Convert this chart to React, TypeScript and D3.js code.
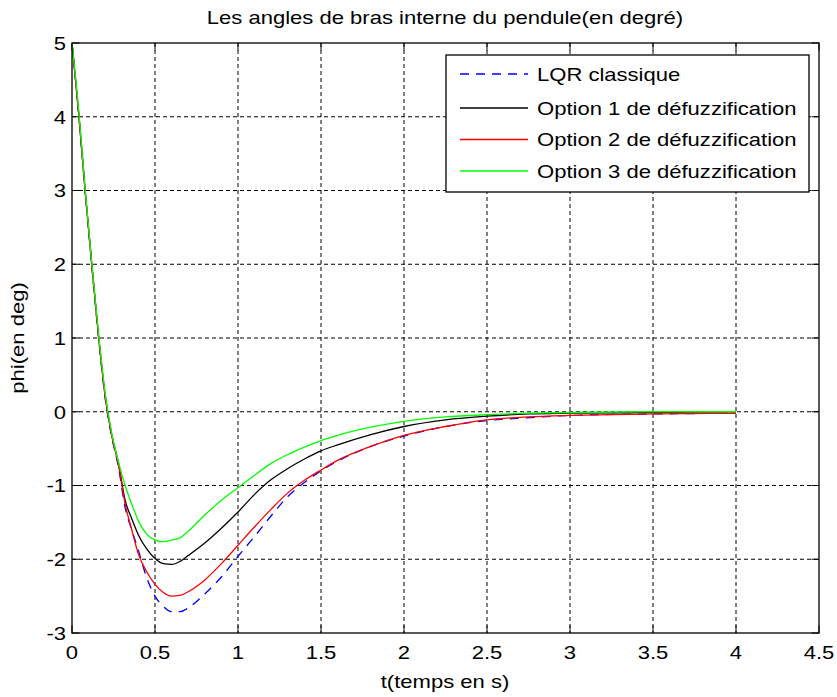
import React from "react";
import * as d3 from "d3";

const T = [0, 0.04, 0.08, 0.12, 0.16, 0.2, 0.24, 0.28, 0.32, 0.36, 0.4, 0.45, 0.5, 0.55, 0.6, 0.65, 0.7, 0.8, 0.9, 1.0, 1.1, 1.2, 1.3, 1.4, 1.5, 1.6, 1.8, 2.0, 2.25, 2.5, 2.75, 3.0, 3.5, 4.0];

const lqr = [5, 4.05, 2.97, 1.96, 1.0, 0.18, -0.35, -0.75, -1.3, -1.6, -1.88, -2.25, -2.5, -2.64, -2.71, -2.71, -2.66, -2.47, -2.24, -1.96, -1.69, -1.41, -1.15, -0.96, -0.8, -0.67, -0.47, -0.33, -0.2, -0.12, -0.08, -0.05, -0.03, -0.02];
const opt1 = [5, 4.05, 2.98, 1.98, 1.03, 0.22, -0.32, -0.7, -1.2, -1.45, -1.67, -1.86, -1.99, -2.06, -2.07, -2.03, -1.95, -1.78, -1.58, -1.36, -1.12, -0.92, -0.77, -0.64, -0.53, -0.45, -0.31, -0.2, -0.11, -0.06, -0.03, -0.02, -0.01, 0];
const opt2 = [5, 4.05, 2.97, 1.97, 1.02, 0.2, -0.33, -0.72, -1.25, -1.6, -1.93, -2.17, -2.34, -2.45, -2.5, -2.49, -2.44, -2.28, -2.06, -1.81, -1.56, -1.32, -1.1, -0.93, -0.79, -0.66, -0.47, -0.32, -0.2, -0.11, -0.07, -0.05, -0.03, -0.02];
const opt3 = [5, 4.1, 3.0, 2.0, 1.05, 0.25, -0.3, -0.68, -1.0, -1.25, -1.48, -1.66, -1.74, -1.76, -1.74, -1.71, -1.62, -1.4, -1.2, -1.03, -0.86, -0.7, -0.58, -0.48, -0.39, -0.32, -0.21, -0.13, -0.07, -0.04, -0.02, -0.01, 0, 0];

const seriesNames = ["LQR classique", "Option 1 de défuzzification", "Option 2 de défuzzification", "Option 3 de défuzzification"];
const seriesColors = ["#0000ff", "#000000", "#ff0000", "#00ff00"];
const seriesDash = ["9,7", "", "", ""];
const seriesValues = [lqr, opt1, opt2, opt3];

const xTicks = [0, 0.5, 1, 1.5, 2, 2.5, 3, 3.5, 4, 4.5];
const yTicks = [-3, -2, -1, 0, 1, 2, 3, 4, 5];

const title = "Les angles de bras interne du pendule(en degré)";
const xLabel = "t(temps en s)";
const yLabel = "phi(en deg)";

const FONT = "'Liberation Sans', Arial, Helvetica, sans-serif";
const FS = 19;
const SX = 1.16;

export default function App() {
  const W = 837, H = 697;
  const L = 72, R = 819, TOP = 43, B = 633;
  const x = d3.scaleLinear().domain([0, 4.5]).range([L, R]);
  const y = d3.scaleLinear().domain([-3, 5]).range([B, TOP]);
  const line = d3.line<number>().x((_, i) => x(T[i])).y((v) => y(v)).curve(d3.curveMonotoneX);
  const tick = 7.5;

  const txt = (s: string, tx: number, ty: number, anchor: string, key?: string, rot = false) => (
    <text
      key={key}
      transform={`translate(${tx},${ty})${rot ? " rotate(-90)" : ""} scale(${SX},1)`}
      textAnchor={anchor as any}
      fontFamily={FONT}
      fontSize={FS}
      fill="#000"
    >
      {s}
    </text>
  );

  const legY = [74, 108, 139.5, 171];

  return (
    <svg width={W} height={H} style={{ position: "absolute", left: 0, top: 0, background: "#fff" }}>
      <rect x={0} y={0} width={W} height={H} fill="#fff" />
      <rect x={L} y={TOP} width={R - L} height={B - TOP} fill="#fff" />
      {/* grid */}
      <g stroke="#000" strokeWidth={1} strokeDasharray="4,3">
        {xTicks.slice(1, -1).map((t) => (
          <line key={"gx" + t} x1={x(t)} x2={x(t)} y1={TOP} y2={B} />
        ))}
        {yTicks.slice(1, -1).map((t) => (
          <line key={"gy" + t} x1={L} x2={R} y1={y(t)} y2={y(t)} />
        ))}
      </g>
      {/* ticks */}
      <g stroke="#000" strokeWidth={1}>
        {xTicks.map((t) => (
          <g key={"tx" + t}>
            <line x1={x(t)} x2={x(t)} y1={B} y2={B - tick} />
            <line x1={x(t)} x2={x(t)} y1={TOP} y2={TOP + tick} />
          </g>
        ))}
        {yTicks.map((t) => (
          <g key={"ty" + t}>
            <line x1={L} x2={L + tick} y1={y(t)} y2={y(t)} />
            <line x1={R} x2={R - tick} y1={y(t)} y2={y(t)} />
          </g>
        ))}
      </g>
      {/* series */}
      {seriesValues.map((vals, i) => (
        <path
          key={"s" + i}
          d={line(vals) || ""}
          fill="none"
          stroke={seriesColors[i]}
          strokeWidth={1.3}
          strokeDasharray={seriesDash[i] || undefined}
        />
      ))}
      {/* axes box */}
      <rect x={L} y={TOP} width={R - L} height={B - TOP} fill="none" stroke="#000" strokeWidth={1.3} />
      {/* tick labels */}
      {xTicks.map((t) => txt(String(t), x(t), 659, "middle", "xl" + t))}
      {yTicks.map((t) => txt(String(t), 66, y(t) + 6.8, "end", "yl" + t))}
      {/* title & labels */}
      {txt(title, 445, 24, "middle", "title")}
      {txt(xLabel, 445, 688, "middle", "xlab")}
      {txt(yLabel, 24, 338, "middle", "ylab", true)}
      {/* legend */}
      <rect x={446} y={55} width={363} height={137} fill="#fff" stroke="#000" strokeWidth={1.3} />
      {seriesNames.map((n, i) => (
        <g key={"leg" + i}>
          <line
            x1={460}
            x2={528}
            y1={legY[i]}
            y2={legY[i]}
            stroke={seriesColors[i]}
            strokeWidth={1.3}
            strokeDasharray={seriesDash[i] || undefined}
          />
          {txt(n, 537, legY[i] + 6.8, "start")}
        </g>
      ))}
    </svg>
  );
}
